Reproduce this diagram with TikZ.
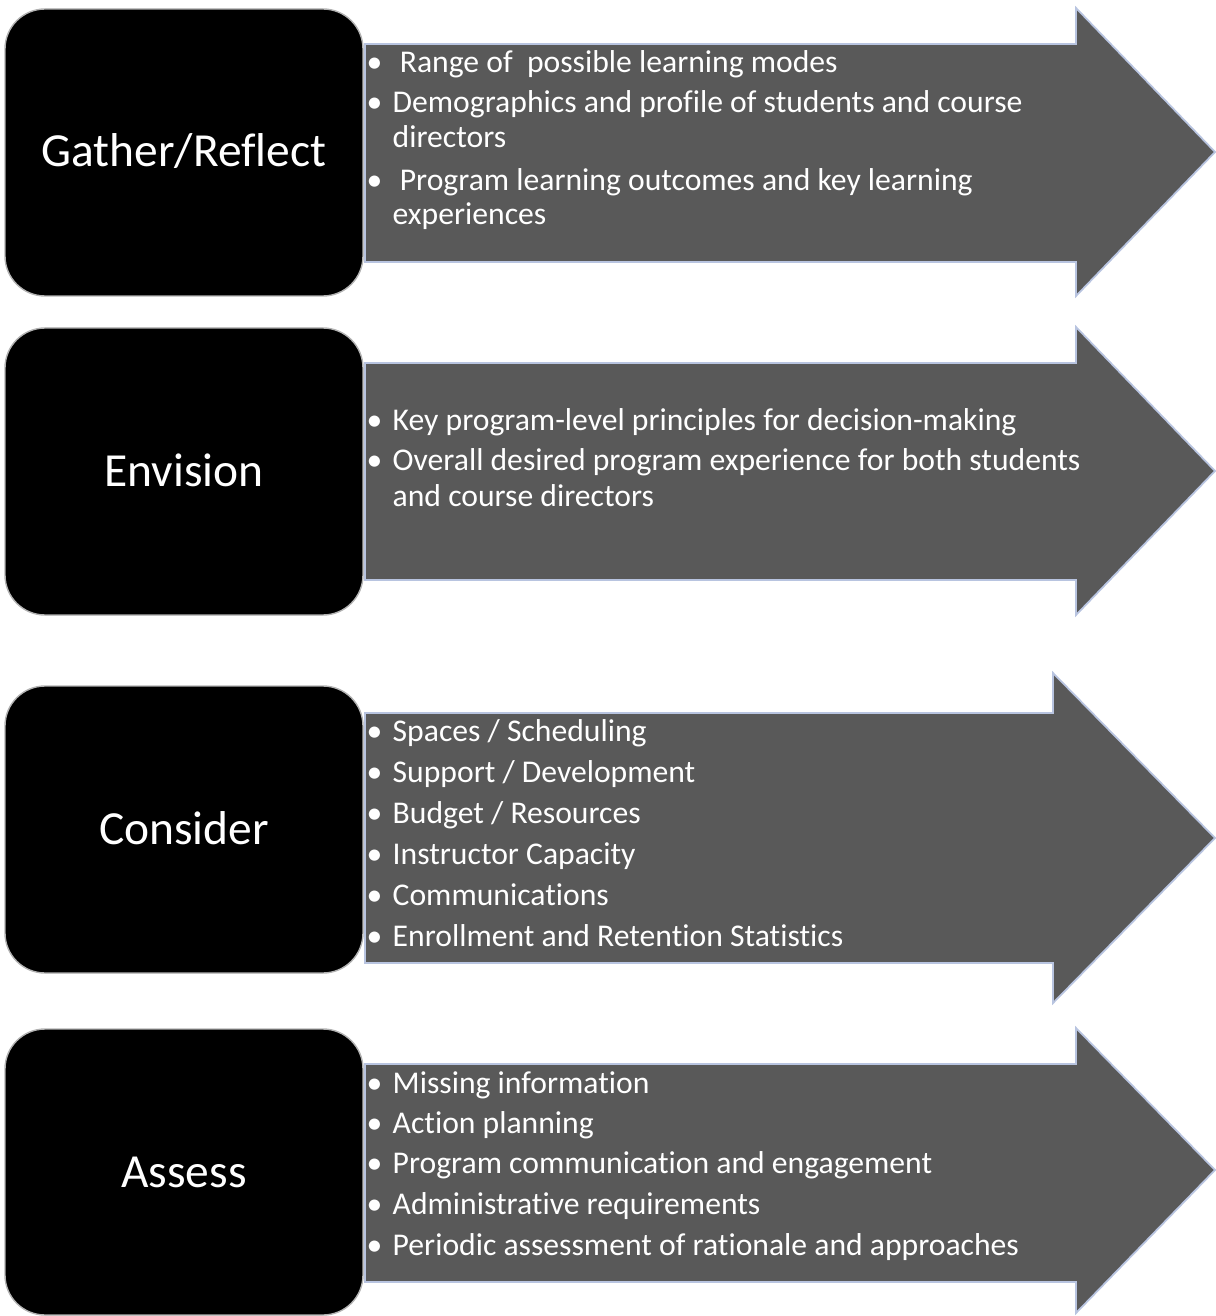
\documentclass[tikz,border=0pt]{standalone}
\usepackage{fontspec}
\setmainfont{Carlito}[Ligatures=NoCommon]
\definecolor{arrowgray}{HTML}{595959}
\definecolor{arrowedge}{HTML}{B8C4E0}
\begin{document}
\begin{tikzpicture}[x=0.01cm, y=-0.01cm]
    \tikzset{
        stepbox/.style={fill=black, draw=gray!60, line width=0.4pt, rounded corners=0.4cm},
        arrowbody/.style={fill=arrowgray, draw=arrowedge, line width=0.5pt, line join=miter},
        steplabel/.style={anchor=base, text=white, inner sep=0pt, font=\fontsize{13.5}{16}\selectfont},
        itemline/.style={anchor=base west, text=white, inner sep=0pt, font=\fontsize{9}{10}\selectfont}
    }
    \newcommand{\bul}{\makebox[0.26cm][l]{•}}

    \useasboundingbox (0,0) rectangle (1215,1316);

    % Gather/Reflect
    \filldraw[arrowbody] (365,44) -- (1076,44) -- (1076,8) -- (1215,152) -- (1076,296) -- (1076,262) -- (365,262) -- cycle;
    \filldraw[stepbox] (5,9) rectangle (363,296);
    \node[steplabel] (gather) at (184,167) {Gather/Reflect};
    \node[itemline] (g1) at (366,73) {\bul\ Range of\ \ possible learning modes};
    \node[itemline] (g2) at (366,113) {\bul Demographics and profile of students and course};
    \node[itemline] (g3) at (392,148) {directors};
    \node[itemline] (g4) at (366,191) {\bul\ Program learning outcomes and key learning};
    \node[itemline] (g5) at (392,225) {experiences};

    % Envision
    \filldraw[arrowbody] (365,363) -- (1076,363) -- (1076,327) -- (1215,471) -- (1076,615) -- (1076,580) -- (365,580) -- cycle;
    \filldraw[stepbox] (5,328) rectangle (363,615);
    \node[steplabel] (envision) at (184,486) {Envision};
    \node[itemline] (e1) at (366,431) {\bul Key program-level principles for decision-making};
    \node[itemline] (e2) at (366,471) {\bul Overall desired program experience for both students};
    \node[itemline] (e3) at (392,506) {and course directors};

    % Consider
    \filldraw[arrowbody] (365,713) -- (1053,713) -- (1053,673) -- (1215,838) -- (1053,1003) -- (1053,963) -- (365,963) -- cycle;
    \filldraw[stepbox] (5,686) rectangle (363,973);
    \node[steplabel] (consider) at (184,844) {Consider};
    \node[itemline] (c1) at (366,741) {\bul Spaces / Scheduling};
    \node[itemline] (c2) at (366,782) {\bul Support / Development};
    \node[itemline] (c3) at (366,823) {\bul Budget / Resources};
    \node[itemline] (c4) at (366,864) {\bul Instructor Capacity};
    \node[itemline] (c5) at (366,905) {\bul Communications};
    \node[itemline] (c6) at (366,946) {\bul Enrollment and Retention Statistics};

    % Assess
    \filldraw[arrowbody] (365,1064) -- (1076,1064) -- (1076,1028) -- (1215,1170) -- (1076,1313) -- (1076,1282) -- (365,1282) -- cycle;
    \filldraw[stepbox] (5,1029) rectangle (363,1315);
    \node[steplabel] (assess) at (184,1187) {Assess};
    \node[itemline] (a1) at (366,1093) {\bul Missing information};
    \node[itemline] (a2) at (366,1133) {\bul Action planning};
    \node[itemline] (a3) at (366,1173) {\bul Program communication and engagement};
    \node[itemline] (a4) at (366,1214) {\bul Administrative requirements};
    \node[itemline] (a5) at (366,1255) {\bul Periodic assessment of rationale and approaches};
\end{tikzpicture}
\end{document}
